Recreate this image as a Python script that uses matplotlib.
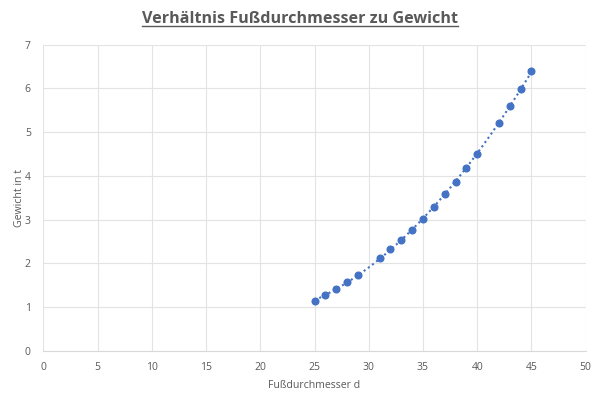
import numpy as np
from matplotlib import pyplot as plt
from matplotlib.lines import Line2D

# Messwerte
durchmesser = [25, 26, 27, 28, 29, 31, 32, 33, 34, 35, 36, 37, 38, 39, 40, 42, 43, 44, 45]
gewicht = [1.13, 1.27, 1.41, 1.57, 1.74, 2.12, 2.32, 2.54, 2.77, 3.02, 3.29, 3.58,
           3.86, 4.17, 4.51, 5.20, 5.59, 5.98, 6.40]
x_ticks = list(range(0, 51, 5))
y_ticks = list(range(0, 8))

blau = '#4472C4'
grau = '#595959'
gitter = '#e3e3e3'

plt.rcParams['font.family'] = ['Open Sans', 'DejaVu Sans']

fig = plt.figure(figsize=(6, 3.98), dpi=100)
ax = fig.add_axes([0.0722, 0.1188, 0.904, 0.769])

# polynomische Trendlinie (2. Ordnung) wie in Excel
koeff = np.polyfit(durchmesser, gewicht, 2)
xt = np.linspace(min(durchmesser), max(durchmesser), 200)
ax.plot(xt, np.polyval(koeff, xt), linestyle=(0, (1, 1.5)), color=blau, lw=1.5, zorder=2)
ax.plot(durchmesser, gewicht, 'o', color=blau, ms=4.8, zorder=3)

ax.set_xlim(0, 50)
ax.set_ylim(0, 7)
ax.set_xticks(x_ticks)
ax.set_yticks(y_ticks)
ax.grid(True, color=gitter, lw=0.8)
ax.set_axisbelow(True)
for s in ['top', 'right', 'left']:
    ax.spines[s].set_visible(False)
ax.spines['bottom'].set_color('#d9d9d9')
ax.tick_params(axis='both', which='both', length=0, colors=grau, labelsize=7.5)
ax.tick_params(axis='x', pad=8)
ax.tick_params(axis='y', pad=9)

ax.set_xlabel('Fußdurchmesser d', color=grau, fontsize=7.6, labelpad=5)
ax.set_ylabel('Gewicht in t', color=grau, fontsize=7.6, labelpad=0)

titel = fig.text(0.5, 0.952, 'Verhältnis Fußdurchmesser zu Gewicht', ha='center', va='center',
                 fontsize=11.6, fontweight='bold', color=grau)

# Unterstreichung des Titels
fig.canvas.draw()
bb = titel.get_window_extent().transformed(fig.transFigure.inverted())
yl = bb.y0 + 0.004
fig.add_artist(Line2D([bb.x0, bb.x1], [yl, yl], color=grau, lw=1.0, transform=fig.transFigure))

plt.savefig('out.png', dpi=100)
